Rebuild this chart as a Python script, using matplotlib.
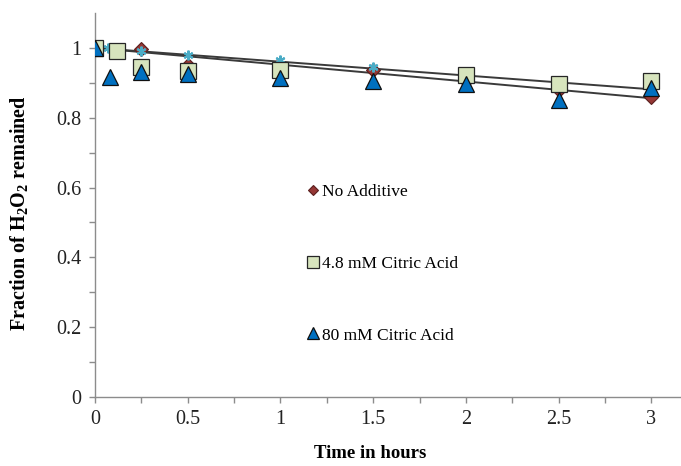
import numpy as np
import matplotlib
matplotlib.use("Agg")
import matplotlib.pyplot as plt
from matplotlib.ticker import FixedLocator

plt.rcParams['font.family'] = ['Liberation Serif', 'DejaVu Serif']
plt.rcParams['mathtext.fontset'] = 'custom'
plt.rcParams['mathtext.rm'] = 'Liberation Serif'
plt.rcParams['mathtext.bf'] = 'Liberation Serif:bold'

# fraction of H2O2 remaining vs time (hours)
t_none = [0, 0.25, 0.5, 1, 1.5, 2, 2.5, 3]
y_none = [1.0, 0.997, 0.95, 0.94, 0.937, 0.905, 0.88, 0.858]

t_cit48 = [0, 0.12, 0.25, 0.5, 1, 2, 2.5, 3]
y_cit48 = [1.0, 0.99, 0.946, 0.935, 0.937, 0.921, 0.896, 0.905]

t_cit80 = [0, 0.08, 0.25, 0.5, 1, 1.5, 2, 2.5, 3]
y_cit80 = [1.0, 0.918, 0.932, 0.925, 0.913, 0.905, 0.898, 0.851, 0.884]

# extra series (cyan stars), not in the legend
t_extra = [0, 0.07, 0.25, 0.5, 1, 1.5]
y_extra = [1.0, 1.0, 0.992, 0.98, 0.966, 0.944]

labels = ["No Additive", "4.8 mM Citric Acid", "80 mM Citric Acid"]

x_ticks = [0, 0.5, 1, 1.5, 2, 2.5, 3]
x_ticklabels = ["0", "0.5", "1", "1.5", "2", "2.5", "3"]
y_ticks = [0, 0.2, 0.4, 0.6, 0.8, 1.0]
y_ticklabels = ["0", "0.2", "0.4", "0.6", "0.8", "1"]


def trend_through_one(t, y):
    # least squares line with intercept fixed at 1
    t = np.asarray(t, dtype=float)
    y = np.asarray(y, dtype=float)
    slope = np.sum(t*(y-1.0))/np.sum(t*t)
    return slope


fig = plt.figure(figsize=(6.81, 4.66), dpi=100)
ax = fig.add_axes([95/681, 69/466, (681-95)/681, (397-13)/466])

#trend lines under the markers
tt = np.array([0.0, 3.0])
for t, y in [(t_none, y_none), (t_cit48, y_cit48)]:
    m = trend_through_one(t, y)
    ax.plot(tt, 1.0 + m*tt, color="#3a3a3a", lw=1.4, zorder=1)

ax.plot(t_none, y_none, ls="none", marker="D", ms=7.5, mfc="#953735",
        mec="#5a1f1e", mew=0.8, label=labels[0], zorder=2)
ax.plot(t_extra, y_extra, ls="none", marker=(6, 2, 0), ms=7, mec="#4BACC6",
        mew=1.5, zorder=3)
ax.plot(t_cit48, y_cit48, ls="none", marker="s", ms=11.5, mfc="#D7E4BD",
        mec="#262626", mew=0.9, label=labels[1], zorder=4)
ax.plot(t_cit80, y_cit80, ls="none", marker="^", ms=11.5, mfc="#0070C0",
        mec="#101010", mew=0.9, label=labels[2], zorder=5)

ax.set_xlim(0, 3.16)
ax.set_ylim(0, 1.1)

ax.xaxis.set_major_locator(FixedLocator(x_ticks))
ax.xaxis.set_minor_locator(FixedLocator([0.25, 0.75, 1.25, 1.75, 2.25, 2.75]))
ax.yaxis.set_major_locator(FixedLocator(y_ticks))
ax.yaxis.set_minor_locator(FixedLocator([0.1, 0.3, 0.5, 0.7, 0.9]))
ax.set_xticklabels(x_ticklabels)
ax.set_yticklabels(y_ticklabels)

for s in ["top", "right"]:
    ax.spines[s].set_visible(False)
for s in ["left", "bottom"]:
    ax.spines[s].set_color("#8c8c8c")
    ax.spines[s].set_linewidth(1.0)

ax.tick_params(which="both", direction="out", length=4, width=1.0,
               color="#8c8c8c", labelsize=14.5, labelcolor="#222222")
ax.tick_params(axis="y", which="major", pad=6)
ax.tick_params(axis="x", which="major", pad=5)

ax.set_xlabel("Time in hours", fontsize=13.5, fontweight="bold")
ax.set_ylabel(r"Fraction of H$\mathbf{_2}$O$\mathbf{_2}$ remained", fontsize=14.5,
              fontweight="bold")
ax.xaxis.set_label_coords(0.469, -0.125)
ax.yaxis.set_label_coords(-0.111, 0.48)

leg = ax.legend(loc="upper left", bbox_to_anchor=(308/681, 1-184/466),
                bbox_transform=fig.transFigure, frameon=False, fontsize=12.5,
                markerscale=0.72, handlelength=0.6, handletextpad=0.2,
                labelspacing=3.2, borderpad=0, borderaxespad=0)

fig.savefig("out.png", dpi=100)
